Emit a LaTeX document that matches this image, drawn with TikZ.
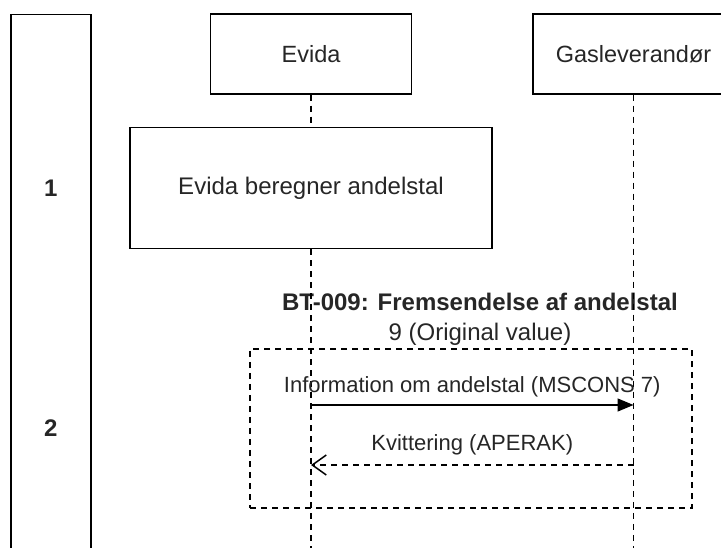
\documentclass[tikz,border=0pt]{standalone}
\usepackage{fontspec}
\setmainfont{Liberation Sans}
\usetikzlibrary{positioning}
\usetikzlibrary{arrows.meta}

\begin{document}
\begin{tikzpicture}[x=1pt, y=-1pt, node distance=32pt, line width=1.5pt, text=black!85,
    lane/.style={draw, minimum width=80, minimum height=600},
    actor/.style={draw, minimum width=201, minimum height=80, font=\fontsize{23.5}{28}\selectfont},
    activity/.style={draw, minimum width=362, minimum height=121, font=\fontsize{24}{29}\selectfont},
    phase no/.style={font=\fontsize{24}{29}\selectfont\bfseries},
    frame/.style={draw, dash pattern=on 6pt off 5pt, minimum width=442, minimum height=159},
    heading/.style={font=\fontsize{24}{29}\selectfont\bfseries},
    subheading/.style={font=\fontsize{24}{29}\selectfont},
    lifeline/.style={dash pattern=on 6pt off 5pt},
    msg label/.style={font=\fontsize{22}{26}\selectfont},
    msg/.style={-{Triangle[length=16pt, width=13pt]}},
    reply/.style={dash pattern=on 6pt off 5pt, -{Straight Barb[length=14pt, width=20pt]}}]
    \useasboundingbox (0,0) rectangle (721,548);

    \node[lane, anchor=north west] (phases) at (10,14) {};
    \node[actor] (evida) at (311,54) {Evida};
    \node[actor, right=120pt of evida] (gas) {Gasleverandør};

    \node[activity, below=of evida] (calc) {Evida beregner andelstal};
    \node[phase no] (one) at (phases |- calc) {1};

    \node[frame] (frag) at (471,428.5) {};
    \node[phase no] (two) at (phases |- frag) {2};

    \node[heading] (bt) at (480,302) {BT-009: Fremsendelse af andelstal};
    \node[subheading, below=4pt of bt] (orig) {9 (Original value)};

    \coordinate (bottom) at (0,548);
    \draw[lifeline] (evida) -- (calc);
    \draw[lifeline] (calc) -- (calc |- bottom);
    \draw[lifeline] (gas) -- (gas |- bottom);

    \coordinate (info evida) at (evida |- 0,405);
    \coordinate (info gas) at (gas |- 0,405);
    \coordinate (ack gas) at (gas |- 0,465);
    \coordinate (ack evida) at (evida |- 0,465);

    \draw[msg] (info evida) -- node[msg label, above=4pt] (info) {Information om andelstal (MSCONS 7)} (info gas);
    \draw[reply] (ack gas) -- node[msg label, above=6pt] (ack) {Kvittering (APERAK)} (ack evida);
\end{tikzpicture}
\end{document}
